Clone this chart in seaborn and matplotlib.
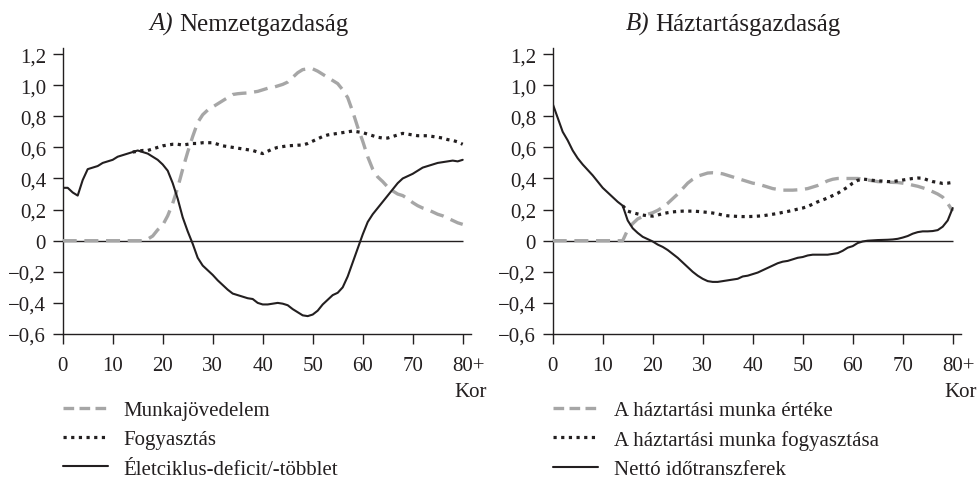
import numpy as np
import matplotlib
matplotlib.use("Agg")
import matplotlib.pyplot as plt
from matplotlib.transforms import ScaledTranslation
import seaborn as sns

nan = np.nan
ages = list(range(81))

# A) Nemzetgazdaság
labor_income = [
    0.0, 0.0, 0.0, 0.0, 0.0, 0.0, 0.0, 0.0, 0.0, 0.0,
    0.0, 0.0, 0.0, 0.0, 0.0, 0.0, 0.0, 0.01, 0.03, 0.07,
    0.10, 0.16, 0.24, 0.34, 0.46, 0.57, 0.67, 0.76, 0.81, 0.84,
    0.86, 0.88, 0.90, 0.92, 0.94, 0.945, 0.948, 0.95, 0.955, 0.96,
    0.97, 0.98, 0.985, 0.995, 1.005, 1.02, 1.05, 1.08, 1.10, 1.105,
    1.105, 1.09, 1.07, 1.05, 1.03, 1.01, 0.97, 0.92, 0.83, 0.73,
    0.64, 0.54, 0.46, 0.41, 0.38, 0.345, 0.32, 0.30, 0.29, 0.27,
    0.245, 0.225, 0.21, 0.20, 0.185, 0.17, 0.16, 0.145, 0.13, 0.115,
    0.105,
]
consumption = [
    nan, nan, nan, nan, nan, nan, nan, nan, nan, nan,
    nan, nan, nan, nan, 0.57, 0.575, 0.58, 0.58, 0.59, 0.60,
    0.61, 0.615, 0.62, 0.62, 0.615, 0.62, 0.625, 0.625, 0.63, 0.63,
    0.63, 0.62, 0.61, 0.605, 0.60, 0.595, 0.59, 0.585, 0.58, 0.57,
    0.56, 0.575, 0.59, 0.60, 0.605, 0.61, 0.612, 0.614, 0.615, 0.625,
    0.64, 0.655, 0.67, 0.68, 0.685, 0.69, 0.695, 0.70, 0.705, 0.70,
    0.695, 0.685, 0.675, 0.665, 0.66, 0.66, 0.67, 0.68, 0.69, 0.685,
    0.68, 0.675, 0.675, 0.675, 0.67, 0.665, 0.66, 0.65, 0.645, 0.635,
    0.62,
]
lifecycle_deficit = [
    0.34, 0.34, 0.31, 0.29, 0.39, 0.46, 0.47, 0.48, 0.50, 0.51,
    0.52, 0.54, 0.55, 0.56, 0.57, 0.58, 0.57, 0.56, 0.54, 0.52,
    0.49, 0.45, 0.37, 0.27, 0.15, 0.06, -0.02, -0.11, -0.16, -0.19,
    -0.22, -0.255, -0.285, -0.315, -0.34, -0.35, -0.36, -0.37, -0.375, -0.40,
    -0.41, -0.41, -0.405, -0.40, -0.405, -0.415, -0.44, -0.46, -0.48, -0.485,
    -0.475, -0.45, -0.41, -0.38, -0.35, -0.335, -0.30, -0.23, -0.14, -0.05,
    0.04, 0.12, 0.17, 0.21, 0.25, 0.29, 0.33, 0.37, 0.40, 0.415,
    0.43, 0.45, 0.47, 0.48, 0.49, 0.50, 0.505, 0.51, 0.515, 0.51,
    0.52,
]

# B) Háztartásgazdaság
hh_work_value = [
    0.0, 0.0, 0.0, 0.0, 0.0, 0.0, 0.0, 0.0, 0.0, 0.0,
    0.0, 0.0, 0.0, 0.0, 0.0, 0.07, 0.11, 0.14, 0.155, 0.17,
    0.18, 0.195, 0.215, 0.24, 0.27, 0.30, 0.335, 0.37, 0.395, 0.415,
    0.425, 0.435, 0.437, 0.435, 0.43, 0.42, 0.41, 0.40, 0.39, 0.38,
    0.37, 0.365, 0.355, 0.345, 0.335, 0.33, 0.325, 0.325, 0.325, 0.327,
    0.33, 0.335, 0.345, 0.355, 0.37, 0.385, 0.395, 0.40, 0.40, 0.40,
    0.40, 0.40, 0.397, 0.39, 0.385, 0.38, 0.378, 0.376, 0.375, 0.374,
    0.37, 0.365, 0.357, 0.35, 0.34, 0.33, 0.315, 0.30, 0.28, 0.24,
    0.19,
]
hh_work_consumption = [
    nan, nan, nan, nan, nan, nan, nan, nan, nan, nan,
    nan, nan, nan, nan, 0.225, 0.19, 0.18, 0.172, 0.165, 0.16,
    0.158, 0.165, 0.174, 0.18, 0.185, 0.188, 0.19, 0.19, 0.19, 0.188,
    0.185, 0.182, 0.178, 0.172, 0.165, 0.16, 0.158, 0.156, 0.155, 0.155,
    0.156, 0.158, 0.16, 0.165, 0.17, 0.175, 0.182, 0.188, 0.195, 0.203,
    0.21, 0.22, 0.235, 0.25, 0.262, 0.275, 0.29, 0.305, 0.325, 0.345,
    0.37, 0.388, 0.396, 0.393, 0.388, 0.385, 0.383, 0.38, 0.38, 0.385,
    0.39, 0.395, 0.40, 0.403, 0.402, 0.39, 0.38, 0.375, 0.368, 0.37,
    0.375,
]
net_time_transfers = [
    0.88, 0.79, 0.70, 0.645, 0.58, 0.53, 0.49, 0.455, 0.42, 0.38,
    0.34, 0.31, 0.28, 0.25, 0.225, 0.13, 0.08, 0.05, 0.025, 0.01,
    -0.005, -0.025, -0.04, -0.06, -0.085, -0.11, -0.14, -0.17, -0.20, -0.225,
    -0.245, -0.26, -0.265, -0.265, -0.26, -0.255, -0.25, -0.245, -0.23, -0.225,
    -0.215, -0.205, -0.19, -0.175, -0.16, -0.145, -0.135, -0.13, -0.12, -0.11,
    -0.105, -0.095, -0.09, -0.09, -0.09, -0.09, -0.085, -0.08, -0.065, -0.045,
    -0.035, -0.015, -0.005, 0.0, 0.002, 0.004, 0.005, 0.006, 0.008, 0.012,
    0.02, 0.03, 0.045, 0.055, 0.06, 0.06, 0.062, 0.068, 0.09, 0.13,
    0.21,
]

titles = ["A)", "B)"]
subtitles = ["Nemzetgazdaság", "Háztartásgazdaság"]
labels_a = ["Munkajövedelem", "Fogyasztás", "Életciklus-deficit/-többlet"]
labels_b = ["A háztartási munka értéke", "A háztartási munka fogyasztása",
            "Nettó időtranszferek"]
x_ticks = [0, 10, 20, 30, 40, 50, 60, 70, 80]
x_tick_labels = ["0", "10", "20", "30", "40", "50", "60", "70", "80+"]
y_ticks = [-0.6, -0.4, -0.2, 0, 0.2, 0.4, 0.6, 0.8, 1.0, 1.2]
y_tick_labels = ["−0,6", "−0,4", "−0,2", "0", "0,2", "0,4", "0,6", "0,8", "1,0", "1,2"]
x_label = "Kor"

sns.set_style("ticks")
plt.rcParams["font.family"] = ["Liberation Serif", "DejaVu Serif"]

ink = "#231f20"
gray = "#a6a6a6"
W, H = 979, 481
fig = plt.figure(figsize=(W / 100, H / 100), dpi=100)


def make_axes(left, right, top, bottom):
    return fig.add_axes([left / W, 1 - bottom / H, (right - left) / W, (bottom - top) / H])


# (axes, series, legend labels, x of title split in px)
panels = [
    (make_axes(62.7, 470.7, 49, 335), [labor_income, consumption, lifecycle_deficit], labels_a, 173),
    (make_axes(552.7, 960.7, 49, 335), [hh_work_value, hh_work_consumption, net_time_transfers], labels_b, 649),
]

styles = [
    dict(color=gray, linewidth=2.4, linestyle=(0, (4.2, 2.3))),
    dict(color=ink, linewidth=2.3, linestyle=(0, (1, 1.4))),
    dict(color=ink, linewidth=1.5, linestyle="-"),
]

for i, (ax, series, labels, split_x) in enumerate(panels):
    ax.hlines(0, 0, 80, color=ink, linewidth=1.0, zorder=1)
    for values, label, style in zip(series, labels, styles):
        sns.lineplot(x=ages, y=values, ax=ax, label=label, errorbar=None, zorder=3, **style)

    ax.set_xlim(0, 81.6)
    ax.set_ylim(-0.6, 1.239)
    ax.set_xticks(x_ticks)
    ax.set_xticklabels(x_tick_labels)
    ax.set_yticks(y_ticks)
    ax.set_yticklabels(y_tick_labels)
    ax.tick_params(axis="both", direction="out", length=7, width=1.0, color=ink,
                   labelcolor=ink, labelsize=15, pad=5)
    ax.tick_params(axis="x", pad=9)
    for side in ["top", "right"]:
        ax.spines[side].set_visible(False)
    for side in ["left", "bottom"]:
        ax.spines[side].set_color(ink)
        ax.spines[side].set_linewidth(1.0)

    last = ax.get_xticklabels()[-1]
    last.set_transform(last.get_transform() + ScaledTranslation(6 / 100, 0, fig.dpi_scale_trans))

    ax.set_xlabel(x_label, loc="right", fontsize=15, color=ink)
    ax.xaxis.set_label_coords(1.039, -0.168)
    ax.set_ylabel("")

    # title: italic panel letter + upright name
    fig.text(split_x / W, 1 - 31 / H, titles[i], ha="right", va="baseline",
             fontsize=18, fontstyle="italic", color=ink)
    fig.text((split_x + 6) / W, 1 - 31 / H, subtitles[i], ha="left", va="baseline",
             fontsize=18, color=ink)

    handles, leg_labels = ax.get_legend_handles_labels()
    leg = ax.legend(handles, leg_labels, loc="upper left", bbox_to_anchor=(0, -0.232),
                    frameon=False, borderpad=0, borderaxespad=0, handlelength=2.16,
                    handletextpad=0.77, labelspacing=0.47, fontsize=15, labelcolor=ink)
    leg.get_lines()[0].set_linestyle((0, (3.2, 1.6)))

fig.savefig("out.png", dpi=100)
